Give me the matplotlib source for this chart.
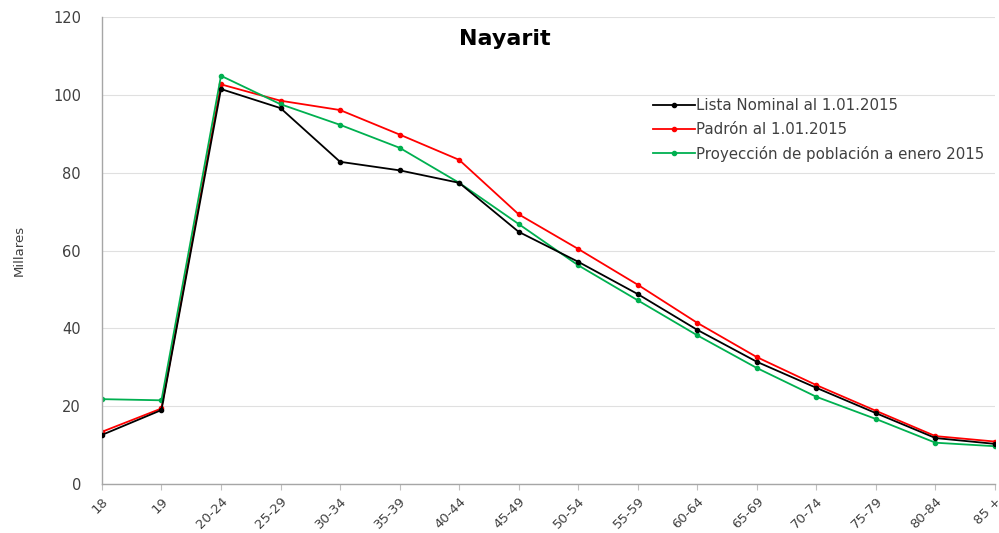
import matplotlib
matplotlib.use("Agg")
import matplotlib.pyplot as plt

categories = ["18", "19", "20-24", "25-29", "30-34", "35-39", "40-44", "45-49",
              "50-54", "55-59", "60-64", "65-69", "70-74", "75-79", "80-84", "85 +"]
lista_nominal = [12.6, 19.0, 101.5, 96.6, 82.8, 80.6, 77.4, 64.8, 57.1, 48.8,
                 39.6, 31.4, 24.7, 18.2, 11.8, 10.3]
padron = [13.4, 19.4, 102.7, 98.5, 96.1, 89.8, 83.3, 69.3, 60.4, 51.2,
          41.4, 32.6, 25.4, 18.8, 12.3, 10.9]
proyeccion = [21.8, 21.5, 104.9, 97.6, 92.3, 86.4, 77.4, 66.8, 56.2, 47.2,
              38.2, 29.8, 22.4, 16.7, 10.6, 9.7]
series_names = ["Lista Nominal al 1.01.2015", "Padrón al 1.01.2015",
                "Proyección de población a enero 2015"]

plt.rcParams['font.family'] = ['DejaVu Sans']

fig = plt.figure(figsize=(9.99, 5.33), dpi=100)
ax = fig.add_axes([0.102, 0.092, 0.894, 0.876])
x = list(range(len(categories)))

ax.plot(x, lista_nominal, color="#000000", lw=1.3, marker="o", ms=3, label=series_names[0], zorder=3)
ax.plot(x, padron, color="#ff0000", lw=1.3, marker="o", ms=3, label=series_names[1], zorder=2)
ax.plot(x, proyeccion, color="#00b050", lw=1.3, marker="o", ms=3, label=series_names[2], zorder=2)

ax.set_xlim(0, len(categories) - 1)
ax.set_ylim(0, 120)
ax.set_yticks(range(0, 121, 20))
ax.set_xticks(x)
ax.set_xticklabels(categories, rotation=45, ha="right", rotation_mode="anchor", fontsize=9.5, color="#404040")
ax.tick_params(axis="y", length=0, labelsize=10.5, colors="#404040", pad=15)
ax.tick_params(axis="x", length=4, color="#bfbfbf", pad=4)
ax.grid(axis="y", color="#e0e0e0", lw=0.8)
ax.set_axisbelow(True)
for s in ["top", "right"]:
    ax.spines[s].set_visible(False)
for s in ["left", "bottom"]:
    ax.spines[s].set_color("#a6a6a6")
    ax.spines[s].set_linewidth(1.0)

ax.set_ylabel("Millares", fontsize=9.5, color="#404040", labelpad=20)
fig.text(0.505, 0.926, "Nayarit", fontsize=16, fontweight="bold", color="#000000",
         ha="center", va="center")

ax.legend(loc="upper left", bbox_to_anchor=(0.617, 0.826), frameon=False, fontsize=10.8,
          handlelength=2.8, handletextpad=0.1, labelspacing=0.58, labelcolor="#404040",
          borderaxespad=0, borderpad=0)

fig.savefig("out.png", dpi=100, facecolor="white")
